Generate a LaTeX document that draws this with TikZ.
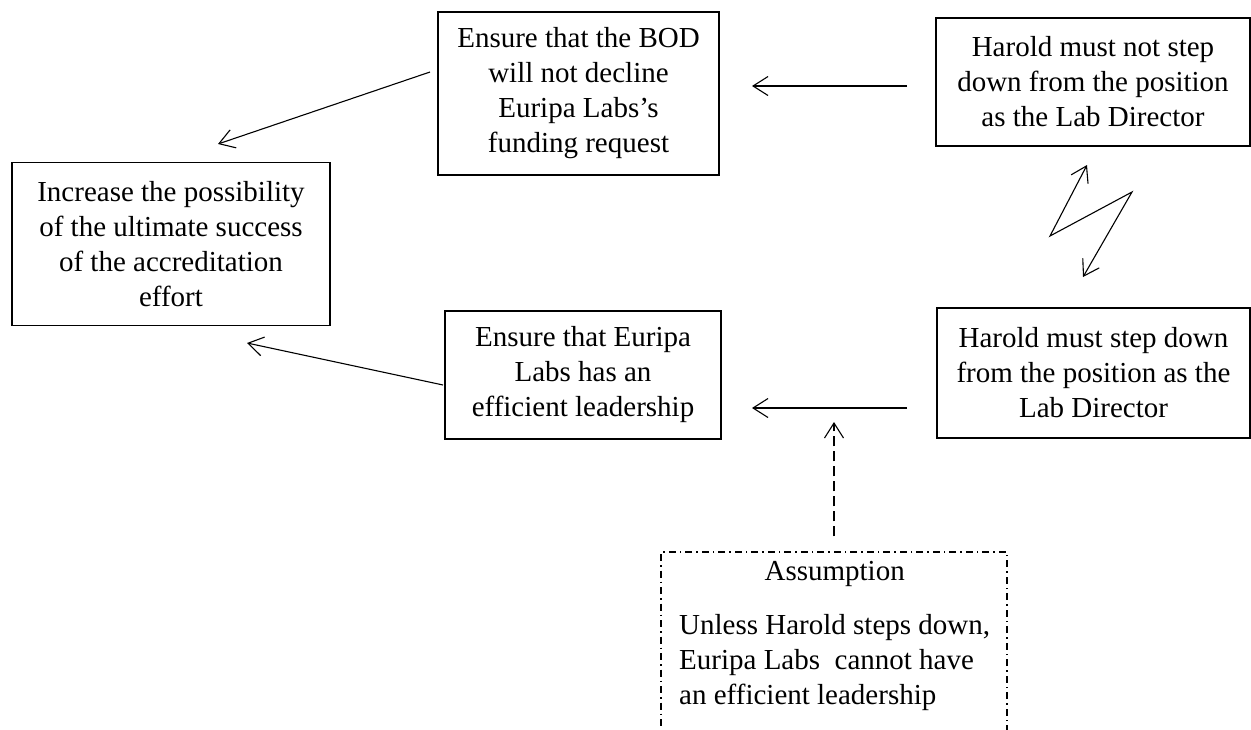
\documentclass[tikz,border=0pt]{standalone}
\usepackage{fontspec}
\setmainfont{Liberation Serif}
\usetikzlibrary{arrows.meta}
\begin{document}
\begin{tikzpicture}[x=1pt,y=-1pt,
  >={Straight Barb[length=15pt,width=19pt]},
  txt/.style={font=\fontsize{29}{35}\selectfont},
  box/.style={txt, draw, line width=1.5pt, align=center, inner sep=0pt},
  arr/.style={line width=1.1pt, ->},
  dasharr/.style={arr, dash pattern=on 10pt off 5pt},
  assumebox/.style={draw, line width=1.3pt, dash pattern=on 7pt off 4pt on 1.5pt off 4pt}]
\clip (0,0) rectangle (1251,729);

% goal and sub-goal boxes
\node[box, minimum width=318pt, minimum height=163pt] (goal) at (171,244)
  {Increase the possibility\\ of the ultimate success\\ of the accreditation\\ effort};
\node[box, minimum width=281pt, minimum height=163pt] (bod) at (578.5,93.5)
  {Ensure that the BOD\\ will not decline\\ Euripa Labs’s\\ funding request};
\node[box, minimum width=314pt, minimum height=128pt] (stay) at (1093,82)
  {Harold must not step\\ down from the position\\ as the Lab Director};
\node[box, minimum width=276pt, minimum height=128pt] (lead) at (583,375)
  {Ensure that Euripa\\ Labs has an\\ efficient leadership};
\node[box, minimum width=313pt, minimum height=130pt] (leave) at (1093.5,373)
  {Harold must step down\\ from the position as the\\ Lab Director};

% assumption box (runs past the lower edge)
\node[assumebox, minimum width=346pt, minimum height=230pt] (assume) at (834,667) {};
\node[txt, anchor=north west, inner sep=0pt] (assumetxt) at (679,556)
  {\begin{tabular}{@{}l@{}}
     \multicolumn{1}{@{}c@{}}{Assumption}\\[19pt]
     Unless Harold steps down,\\
     Euripa Labs\ \ cannot have\\
     an efficient leadership
   \end{tabular}};

% free ends of the connectors
\coordinate (stayend) at (907,86);
\coordinate (bodin) at (752,86);
\coordinate (leaveend) at (907,408);
\coordinate (leadin) at (752,408);
\coordinate (goaltop) at (218,144);
\coordinate (goalbot) at (247,343);
\coordinate (bodout) at (430,72);
\coordinate (leadout) at (443,385);
\coordinate (infer) at (834,422);
\coordinate (z1) at (1087,165);
\coordinate (z2) at (1050,236);
\coordinate (z3) at (1132,192);
\coordinate (z4) at (1083,277);

% connectors
\draw[arr] (stayend) -- (bodin);
\draw[arr] (leaveend) -- (leadin);
\draw[arr] (bodout) -- (goaltop);
\draw[arr] (leadout) -- (goalbot);
\draw[dasharr] ([yshift=15pt]assume.north) -- (infer);

% conflict between the two Harold boxes
\draw[line width=1.1pt, <->] (z1) -- (z2) -- (z3) -- (z4);
\end{tikzpicture}
\end{document}
